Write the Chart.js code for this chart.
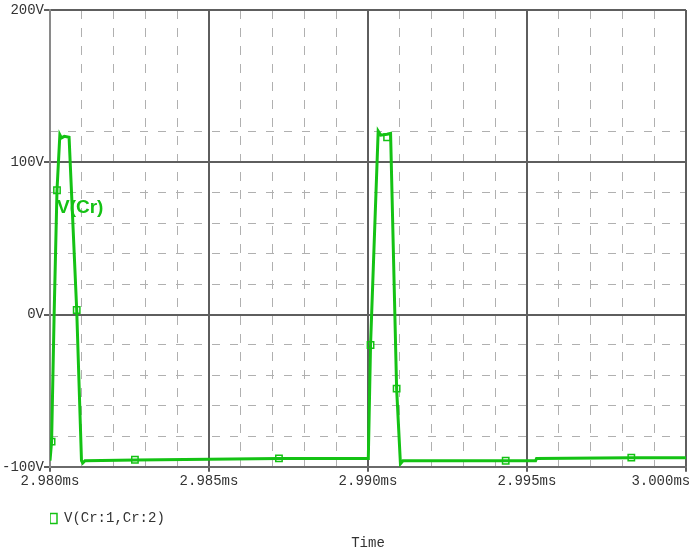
<!DOCTYPE html>
<html>
<head>
<meta charset="utf-8">
<script src="https://cdn.jsdelivr.net/npm/chart.js@4.4.1/dist/chart.umd.min.js"></script>
<style>
  body { margin: 0; background: #fff; }
  #wrap { width: 692px; height: 550px; }
</style>
</head>
<body>
<div id="wrap"><canvas id="myChart"></canvas></div>
<script>
// trace V(Cr:1,Cr:2), time in ms, volts
var timeMs = [2.98000, 2.98005, 2.98013, 2.98022, 2.98031, 2.98036, 2.98045, 2.98060, 2.98084, 2.98099, 2.98103, 2.98110,
              2.98270, 2.98500, 2.98720, 2.99000,
              2.99001, 2.99008, 2.99032, 2.99040, 2.99060, 2.99071, 2.99090, 2.99102, 2.99110,
              2.99430, 2.99527, 2.99530, 2.99828, 3.00000];
var volts  = [-96, -83.5, 0, 81.6, 118, 116, 117, 116.4, 3, -96, -97.5, -96,
              -95.5, -95, -94.5, -94.5,
              -94, -20, 120.4, 117.8, 118.4, 119, -48.7, -98, -96,
              -96, -96, -94.5, -94, -94];
// square markers placed along the trace
var markerTime  = [2.98005, 2.98022, 2.98084, 2.98267, 2.98720, 2.99008, 2.99060, 2.99090, 2.99433, 2.99828];
var markerVolts = [-83.5, 81.6, 3, -95.4, -94.5, -20, 116.4, -48.7, -96, -94];

var xTicks = [2.980, 2.985, 2.990, 2.995, 3.000];
var yTicks = [-100, 0, 100, 200];
var curveLabel = { text: 'V(Cr)', x: 2.98022, y: 70 };

var green = '#14c214';
var ctx = document.getElementById('myChart').getContext('2d');

var labelPlugin = {
    id: 'curveLabel',
    afterDatasetsDraw: function(chart){
        var c = chart.ctx;
        c.save();
        c.font = 'bold 19px "Liberation Sans"';
        c.fillStyle = green;
        c.textBaseline = 'middle';
        c.fillText(curveLabel.text, chart.scales.x.getPixelForValue(curveLabel.x), chart.scales.y.getPixelForValue(curveLabel.y));
        c.restore();
    }
};

var minorColor = '#b0b0b0';

var chart = new Chart(ctx, {
    type: 'line',
    data: {
        datasets: [{
            label: 'V(Cr:1,Cr:2)',
            data: timeMs.map(function(t, i){ return {x: t, y: volts[i]}; }),
            borderColor: green,
            backgroundColor: green,
            borderWidth: 3,
            pointRadius: 0,
            tension: 0
        }, {
            label: 'markers',
            data: markerTime.map(function(t, i){ return {x: t, y: markerVolts[i]}; }),
            showLine: false,
            pointStyle: 'rect',
            pointRadius: 4.5,
            pointBorderWidth: 1.5,
            pointBorderColor: green,
            pointBackgroundColor: 'rgba(255,255,255,0)'
        }]
    },
    options: {
        responsive: true,
        maintainAspectRatio: false,
        animation: false,
        layout: { padding: { top: 10, right: 2, left: 0, bottom: 0 } },
        scales: {
            xMinor: {
                type: 'linear', position: 'bottom', min: 2.980, max: 3.000,
                afterBuildTicks: function(s){
                    var t = [];
                    for (var i = 1; i < 20; i++) if (i % 5) t.push({value: 2.980 + i * 0.001});
                    s.ticks = t;
                },
                afterFit: function(s){ s.height = 0; s.paddingLeft = 0; s.paddingRight = 0; },
                ticks: { display: false },
                grid: { color: minorColor, lineWidth: 1, drawTicks: false },
                border: { display: false, dash: [9, 9] }
            },
            yMinor: {
                type: 'linear', position: 'left', min: -100, max: 200,
                afterBuildTicks: function(s){
                    var t = [];
                    for (var v = -80; v < 200; v += 20) if (v % 100) t.push({value: v});
                    s.ticks = t;
                },
                afterFit: function(s){ s.width = 0; s.paddingTop = 0; s.paddingBottom = 0; },
                ticks: { display: false },
                grid: {
                    lineWidth: 1, drawTicks: false,
                    color: function(c){ return c.tick && c.tick.value > 130 ? 'rgba(0,0,0,0)' : minorColor; }
                },
                border: { display: false, dash: [8, 10] }
            },
            x: {
                type: 'linear', position: 'bottom', min: 2.980, max: 3.000,
                afterBuildTicks: function(s){ s.ticks = xTicks.map(function(v){ return {value: v}; }); },
                afterFit: function(s){ s.height = 44.6; s.paddingLeft = 0; s.paddingRight = 0; },
                ticks: {
                    maxRotation: 0, autoSkip: false, padding: 1, color: '#333',
                    font: { family: '"Liberation Mono"', size: 14 },
                    callback: function(v, i){
                        var s = v.toFixed(3) + 'ms';
                        return i === xTicks.length - 1 ? s + '      ' : s;
                    }
                },
                grid: { color: '#5e5e5e', lineWidth: 2, tickLength: 5, tickColor: '#5e5e5e' },
                border: { color: '#6a6a6a', width: 2 }
            },
            y: {
                type: 'linear', position: 'left', min: -100, max: 200,
                afterBuildTicks: function(s){ s.ticks = yTicks.map(function(v){ return {value: v}; }); },
                afterFit: function(s){ s.width = 50; s.paddingTop = 0; s.paddingBottom = 0; },
                ticks: {
                    padding: 0, color: '#333',
                    font: { family: '"Liberation Mono"', size: 14 },
                    callback: function(v){ return v + 'V'; }
                },
                grid: { color: '#5e5e5e', lineWidth: 2, tickLength: 6, tickColor: '#5e5e5e' },
                border: { color: '#8a8a8a', width: 2 }
            }
        },
        plugins: {
            tooltip: { enabled: false },
            legend: {
                position: 'bottom', align: 'start', fullSize: false,
                labels: {
                    boxWidth: 7, boxHeight: 10, padding: 0, color: '#333',
                    font: { family: '"Liberation Mono"', size: 14 },
                    generateLabels: function(ch){
                        return [{ text: ch.data.datasets[0].label, fillStyle: '#fff', strokeStyle: green,
                                  lineWidth: 1.5, datasetIndex: 0, fontColor: '#333' }];
                    }
                }
            },
            title: {
                display: true, text: 'Time', position: 'bottom', fullSize: false, color: '#333',
                font: { family: '"Liberation Mono"', size: 14, weight: 'normal', lineHeight: 1 },
                padding: { top: 0.6, bottom: 0 }
            }
        }
    },
    plugins: [labelPlugin]
});
</script>
</body>
</html>
